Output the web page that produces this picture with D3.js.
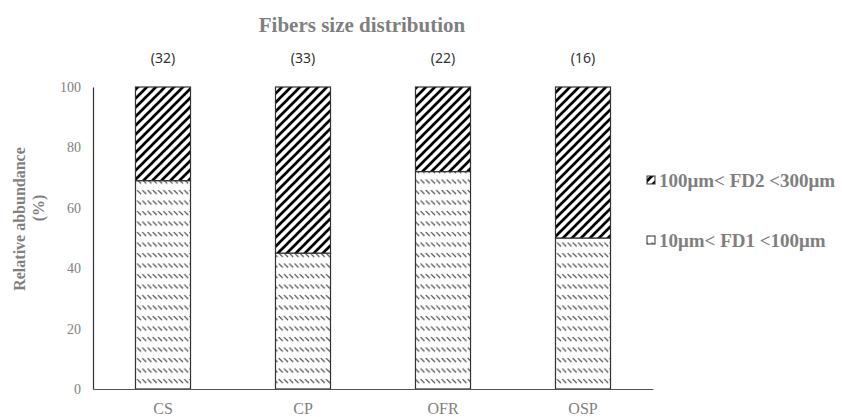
<!DOCTYPE html>
<html>
<head>
<meta charset="utf-8">
<script src="https://cdn.jsdelivr.net/npm/d3@7"></script>
<style>
  html, body { margin: 0; padding: 0; background: #fff; }
  svg { display: block; }
</style>
</head>
<body>
<svg id="chart" width="842" height="417"></svg>
<script>
// ---- data ----
const categories = ["CS", "CP", "OFR", "OSP"];
const fd1Values = [69, 45, 72, 50];      // 10µm< FD1 <100µm (%)
const fd2Values = [31, 55, 28, 50];      // 100µm< FD2 <300µm (%)
const counts = ["(32)", "(33)", "(22)", "(16)"];
const yTicks = [0, 20, 40, 60, 80, 100];
const seriesNames = ["10μm< FD1 <100μm", "100μm< FD2 <300μm"];
const chartTitle = "Fibers size distribution";
const yTitle = ["Relative abbundance", "(%)"];

// ---- layout ----
const svg = d3.select("#chart");
const serif = "'Liberation Serif', 'Times New Roman', serif";
const sans = "'Noto Sans', 'Liberation Sans', sans-serif";
const grey = "#7f7f7f";

const x = d3.scaleBand().domain(categories).range([93, 653])
  .paddingInner(0.607).paddingOuter(0.3035);
const y = d3.scaleLinear().domain([0, 100]).range([389, 87]);

// ---- patterns ----
const defs = svg.append("defs");
const p2 = defs.append("pattern").attr("id", "pFD2")
  .attr("patternUnits", "userSpaceOnUse").attr("width", 9).attr("height", 9);
p2.append("rect").attr("width", 9).attr("height", 9).attr("fill", "#fff");
p2.append("path").attr("d", "M-1,10 L10,-1 M-2,2 L2,-2 M7,11 L11,7")
  .attr("stroke", "#000").attr("stroke-width", 2.7).attr("fill", "none");

const p1 = defs.append("pattern").attr("id", "pFD1")
  .attr("patternUnits", "userSpaceOnUse").attr("width", 5.25).attr("height", 10.5);
p1.append("rect").attr("width", 5.25).attr("height", 10.5).attr("fill", "#fff");
p1.append("path").attr("d", "M0.5,1 L4.5,5")
  .attr("stroke", "#444").attr("stroke-width", 1.1).attr("fill", "none");

// ---- stacked bars ----
const stackData = categories.map((c, i) => ({cat: c, fd1: fd1Values[i], fd2: fd2Values[i]}));
const stack = d3.stack().keys(["fd1", "fd2"])(stackData);
const fills = {fd1: "url(#pFD1)", fd2: "url(#pFD2)"};

svg.append("g").selectAll("g").data(stack).join("g")
  .attr("fill", d => fills[d.key])
  .selectAll("rect").data(d => d).join("rect")
  .attr("x", d => x(d.data.cat))
  .attr("width", x.bandwidth())
  .attr("y", d => y(d[1]))
  .attr("height", d => y(d[0]) - y(d[1]))
  .attr("stroke", "#333").attr("stroke-width", 1.2);

// ---- axes ----
const yAxis = svg.append("g").attr("transform", "translate(93,0)")
  .call(d3.axisLeft(y).tickValues(yTicks).tickSize(0).tickPadding(12));
yAxis.select(".domain").attr("stroke", "#333").attr("stroke-width", 1.2);
yAxis.selectAll("text").attr("font-family", serif).attr("font-size", 14)
  .attr("fill", grey);

const xAxis = svg.append("g").attr("transform", "translate(0,389)")
  .call(d3.axisBottom(x).tickSize(0).tickPadding(14).tickSizeOuter(0));
xAxis.select(".domain").attr("stroke", "#555").attr("stroke-width", 1.2);
xAxis.selectAll("text").attr("font-family", serif).attr("font-size", 16)
  .attr("fill", grey);

// ---- count labels ----
svg.append("g").selectAll("text").data(categories).join("text")
  .attr("x", d => x(d) + x.bandwidth() / 2)
  .attr("y", 63)
  .attr("text-anchor", "middle")
  .attr("font-family", sans).attr("font-size", 14).attr("fill", "#333")
  .text((d, i) => counts[i]);

// ---- title ----
svg.append("text").attr("x", 362).attr("y", 32).attr("text-anchor", "middle")
  .attr("font-family", serif).attr("font-weight", "bold").attr("font-size", 21)
  .attr("fill", grey).text(chartTitle);

// ---- y title ----
svg.append("text").attr("transform", "translate(25,219) rotate(-90)")
  .attr("text-anchor", "middle").attr("font-family", serif)
  .attr("font-weight", "bold").attr("font-size", 16).attr("fill", grey)
  .text(yTitle[0]);
svg.append("text").attr("transform", "translate(44,208) rotate(-90)")
  .attr("text-anchor", "middle").attr("font-family", serif)
  .attr("font-weight", "bold").attr("font-size", 16).attr("fill", grey)
  .text(yTitle[1]);

// ---- legend ----
const legendItems = [
  {name: seriesNames[1], fill: "url(#pFD2)", y: 187},
  {name: seriesNames[0], fill: "url(#pFD1)", y: 247}
];
const lg = svg.append("g").selectAll("g").data(legendItems).join("g");
lg.append("rect").attr("x", 647).attr("y", d => d.y - 11).attr("width", 8).attr("height", 8)
  .attr("fill", d => d.fill).attr("stroke", "#333").attr("stroke-width", 1);
lg.append("text").attr("x", 659).attr("y", d => d.y)
  .attr("font-family", serif).attr("font-weight", "bold").attr("font-size", 19)
  .attr("fill", grey).text(d => d.name);
</script>
</body>
</html>
